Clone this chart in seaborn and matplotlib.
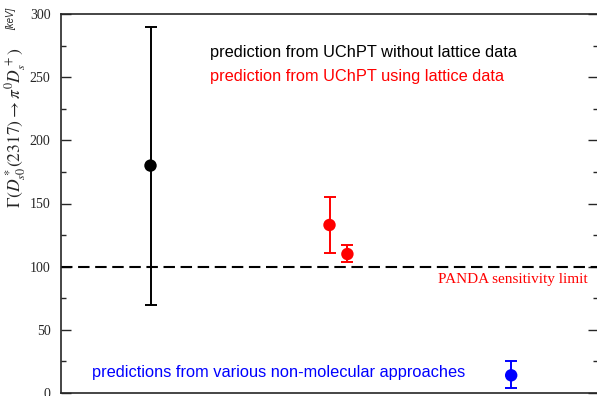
import matplotlib
matplotlib.use("Agg")
import matplotlib.pyplot as plt
import seaborn as sns
import pandas as pd
from matplotlib.ticker import MultipleLocator

# ---- data ----
labels = ["UChPT without lattice", "UChPT with lattice (a)", "UChPT with lattice (b)", "non-molecular"]
groups = ["black", "red", "red", "blue"]
x_vals = [1.0, 3.0, 3.2, 5.03]
widths = [180, 133, 110, 14]
err_hi = [290, 155, 117, 25]
err_lo = [70, 111, 104, 4]
y_ticks = [0, 50, 100, 150, 200, 250, 300]
panda_limit = 100

df = pd.DataFrame({"label": labels, "group": groups, "x": x_vals,
                   "width": widths, "hi": err_hi, "lo": err_lo})

sns.set_style("ticks")
plt.rcParams["mathtext.fontset"] = "stix"

fig = plt.figure(figsize=(5.97, 3.96), dpi=100)
ax = fig.add_axes([61 / 597, 3 / 396, 537 / 597, 379 / 396])

palette = {"black": "#000000", "red": "#ff0000", "blue": "#0000ff"}

for _, r in df.iterrows():
    ax.errorbar(r["x"], r["width"],
                yerr=[[r["width"] - r["lo"]], [r["hi"] - r["width"]]],
                fmt="none", ecolor=palette[r["group"]], elinewidth=1.4,
                capsize=4.1, capthick=1.4, zorder=2)

sns.scatterplot(data=df, x="x", y="width", hue="group", palette=palette,
                s=80, edgecolor="none", legend=False, ax=ax, zorder=3)

ax.axhline(panda_limit, color="black", lw=1.5, ls=(0, (5.5, 2.7)), zorder=1)

ax.set_xlim(0, 6)
ax.set_ylim(0, 300)
ax.set_xticks([])
ax.set_xlabel("")
ax.set_ylabel("")
ax.set_yticks(y_ticks)
ax.yaxis.set_minor_locator(MultipleLocator(25))
ax.tick_params(axis="y", which="major", direction="in", length=7, width=1,
               right=True, labelsize=10, pad=7.5)
ax.tick_params(axis="y", which="minor", direction="in", length=3.6, width=1,
               right=True)
for lab in ax.get_yticklabels():
    lab.set_fontfamily("Liberation Serif")
for sp in ax.spines.values():
    sp.set_linewidth(1.2)
    sp.set_visible(True)

sans = "Liberation Sans"


def px(x, y):
    # convert pixel coords (from top-left) to figure fraction
    return x / 597, 1 - y / 396


fig.text(*px(210, 53), "prediction from UChPT without lattice data", color="black",
         fontsize=11.8, family=sans, va="center", ha="left")
fig.text(*px(210, 77), "prediction from UChPT using lattice data", color="#ff0000",
         fontsize=11.8, family=sans, va="center", ha="left")
fig.text(*px(92, 373), "predictions from various non-molecular approaches", color="#0000ff",
         fontsize=11.8, family=sans, va="center", ha="left")
fig.text(*px(588, 280), "PANDA sensitivity limit", color="#ff0000",
         fontsize=11, family="Liberation Serif", va="center", ha="right")

fig.text(*px(16, 208), r"$\Gamma(D^*_{s0}(2317)\rightarrow\pi^0 D^+_s)$",
         rotation=90, fontsize=12.6, va="bottom", ha="center")
fig.text(*px(11, 8), "[keV]", rotation=90, fontsize=7, family=sans,
         style="italic", va="top", ha="center")

fig.savefig("out.png", dpi=100)
